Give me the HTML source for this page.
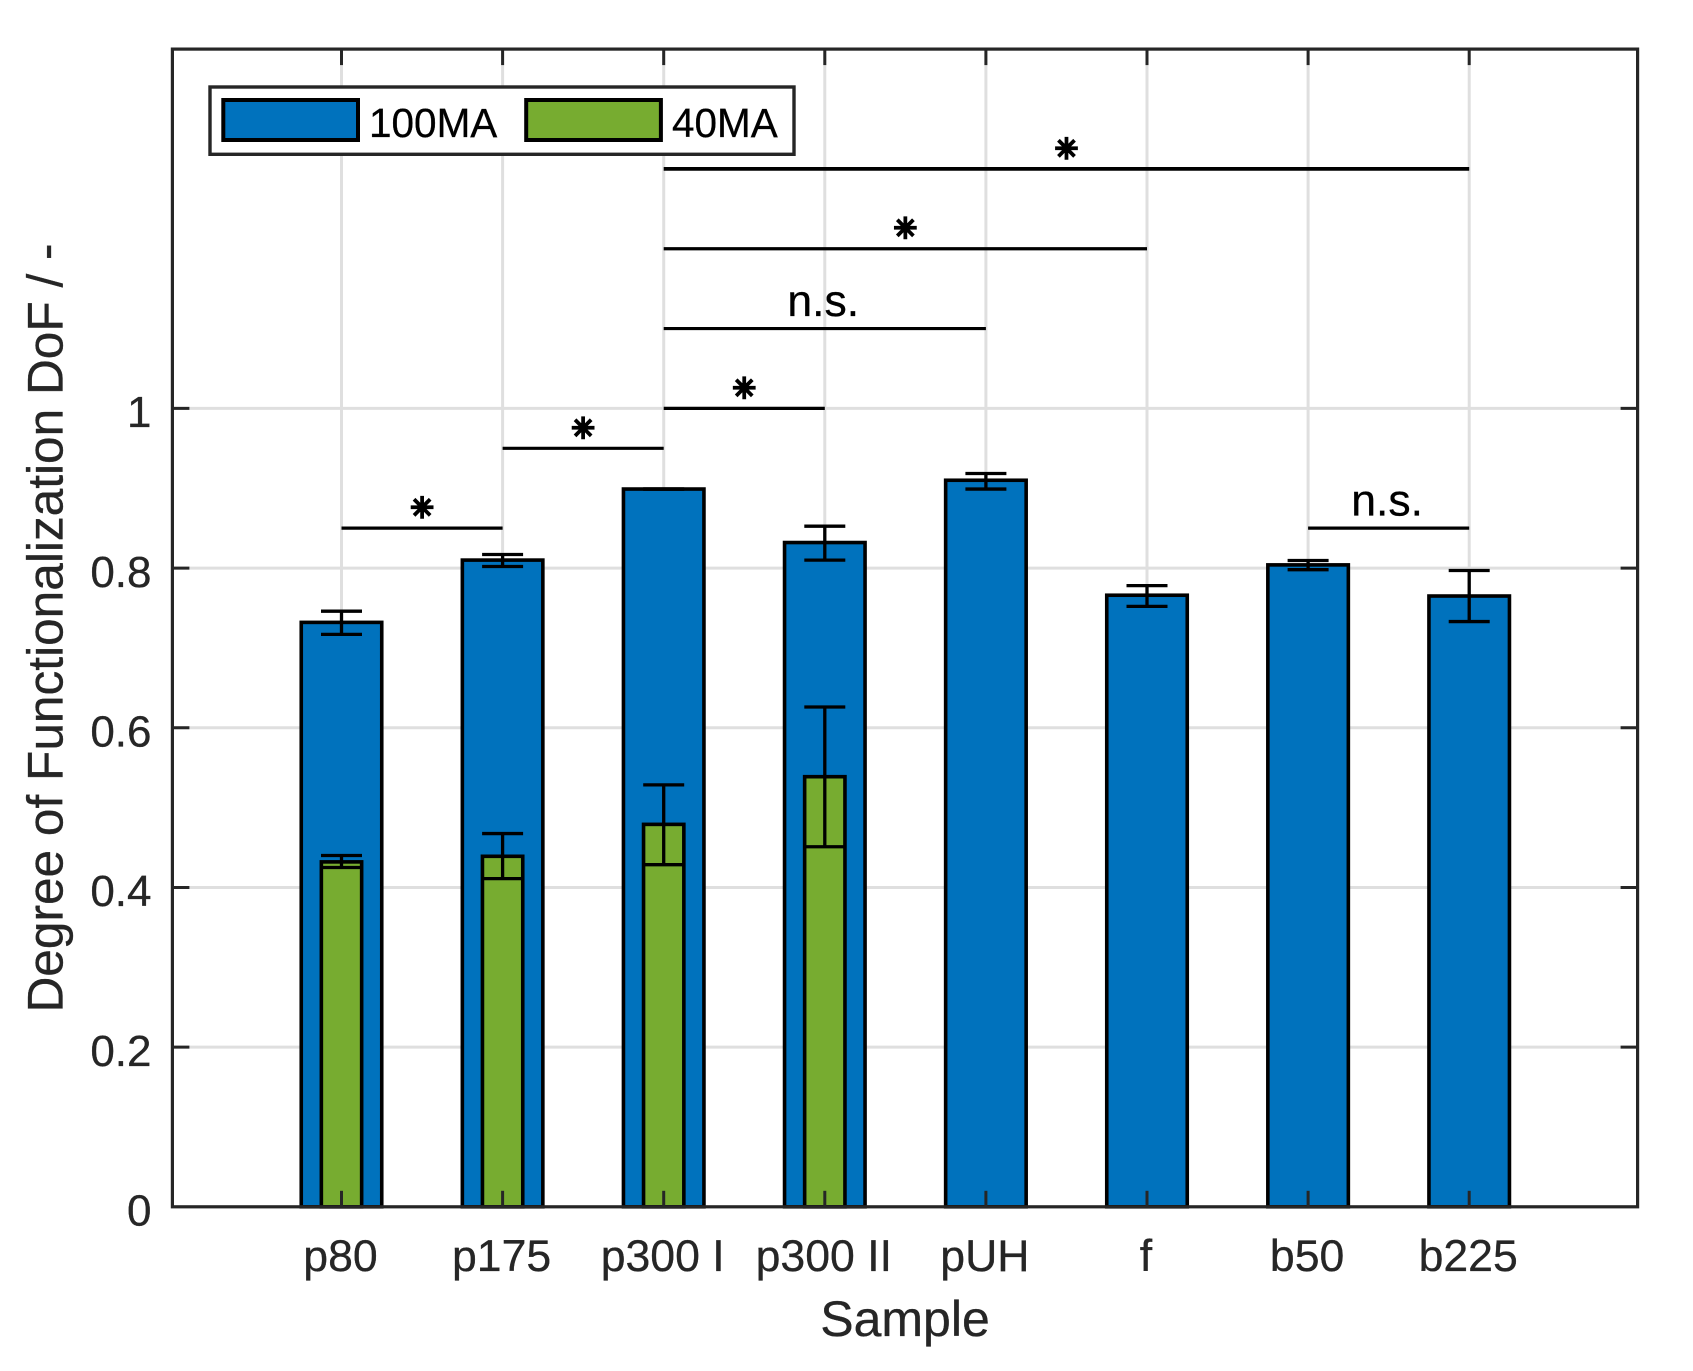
<!DOCTYPE html>
<html lang="en">
<head>
<meta charset="utf-8">
<title>Degree of Functionalization by Sample</title>
<style>
html, body { margin: 0; padding: 0; background: #ffffff; }
svg { display: block; }
text { font-family: "Liberation Sans", sans-serif; stroke: currentColor; stroke-width: 0.3px; }
</style>
</head>
<body>
<svg id="chart" xmlns="http://www.w3.org/2000/svg" width="1693" height="1371" viewBox="0 0 1693 1371">
  <rect x="0" y="0" width="1693" height="1371" fill="#ffffff"/>
</svg>
<script>
const categories = ['p80', 'p175', 'p300 I', 'p300 II', 'pUH', 'f', 'b50', 'b225'];
const values100 = [0.732, 0.81, 0.899, 0.832, 0.91, 0.766, 0.804, 0.765];
const upper100 = [0.746, 0.817, 0.899, 0.8525, 0.9185, 0.778, 0.8095, 0.797];
const lower100 = [0.717, 0.802, 0.899, 0.81, 0.899, 0.752, 0.798, 0.733];
const values40 = [0.432, 0.439, 0.479, 0.5387];
const upper40 = [0.44, 0.4675, 0.5285, 0.626];
const lower40 = [0.425, 0.411, 0.4285, 0.451];
const yTicks = [0, 0.2, 0.4, 0.6, 0.8, 1];
const sigFrom = [0, 1, 2, 2, 2, 2, 6];
const sigTo = [1, 2, 3, 4, 5, 7, 7];
const sigLevel = [0.85, 0.95, 1.0, 1.1, 1.2, 1.3, 0.85];
const sigLabel = ['*', '*', '*', 'n.s.', '*', '*', 'n.s.'];
const legendLabels = ['100MA', '40MA'];

const svg = document.getElementById('chart');
const NS = 'http://www.w3.org/2000/svg';
const plot = { left: 172.4, right: 1637.6, top: 49.1, bottom: 1206.8 };
const xScale = function (i) { return 341.5 + 161.1 * i; };
const yScale = function (v) { return plot.bottom - 798.4 * v; };
const ink = '#262626';

function mk(tag, attrs, parent) {
  const el = document.createElementNS(NS, tag);
  Object.keys(attrs).forEach(function (k) { el.setAttribute(k, attrs[k]); });
  (parent || svg).appendChild(el);
  return el;
}

/* gridlines */
yTicks.forEach(function (t) {
  if (t === 0) return;
  const el = mk('line', { x1: plot.left, x2: plot.right, y1: yScale(t), y2: yScale(t), stroke: '#dfdfdf', 'stroke-width': 3 });
  
  
});
categories.forEach(function (c, i) {
  const el = mk('line', { x1: xScale(i), x2: xScale(i), y1: plot.top, y2: plot.bottom, stroke: '#dfdfdf', 'stroke-width': 3 });
  
  
});

function drawBar(i, v, width, fill, name) {
  const el = mk('rect', { x: xScale(i) - width / 2, y: yScale(v), width: width, height: plot.bottom - yScale(v), fill: fill, stroke: '#000000', 'stroke-width': 3.6 });
  
  
}
function drawError(i, hi, lo, name) {
  const g = mk('g', { stroke: '#000000', 'stroke-width': 3.3, fill: 'none' });
  
  
  const cx = xScale(i);
  mk('line', { x1: cx, x2: cx, y1: yScale(hi), y2: yScale(lo) }, g);
  mk('line', { x1: cx - 20.5, x2: cx + 20.5, y1: yScale(hi), y2: yScale(hi) }, g);
  mk('line', { x1: cx - 20.5, x2: cx + 20.5, y1: yScale(lo), y2: yScale(lo) }, g);
}

/* series 100MA */
categories.forEach(function (c, i) {
  drawBar(i, values100[i], 80.5, '#0072BD', 'bar-100ma-' + c.replace(/ /g, '-'));
});
categories.forEach(function (c, i) {
  drawError(i, upper100[i], lower100[i], 'error-bar-100ma-' + c.replace(/ /g, '-'));
});

/* series 40MA */
values40.forEach(function (v, i) {
  drawBar(i, v, 40.3, '#77AC30', 'bar-40ma-' + categories[i].replace(/ /g, '-'));
});
values40.forEach(function (v, i) {
  drawError(i, upper40[i], lower40[i], 'error-bar-40ma-' + categories[i].replace(/ /g, '-'));
});

/* significance brackets */
sigLabel.forEach(function (label, k) {
  const x1 = xScale(sigFrom[k]);
  const x2 = xScale(sigTo[k]);
  const y = yScale(sigLevel[k]);
  const line = mk('line', { x1: x1, x2: x2, y1: y, y2: y, stroke: '#000000', 'stroke-width': sigLevel[k] === 1.3 ? 3.8 : 3.2 });
  
  
  const isStar = label === '*';
  const t = mk('text', {
    x: isStar ? (x1 + x2) / 2 : (x1 + x2) / 2 - 1.5,
    y: isStar ? y - 10.5 : y - 12.5,
    'text-anchor': 'middle',
    fill: '#000000',
    color: '#000000',
    'font-size': isStar ? 28 : 44.5
  });
  if (isStar) {
    t.style.fontFamily = '"DejaVu Sans", sans-serif';
    t.style.strokeWidth = '2.4px';
  }
  t.textContent = isStar ? '\u2733' : label;
  
  
});

/* ticks */
yTicks.forEach(function (t) {
  const y = yScale(t);
  if (t !== 0) {
    const a = mk('line', { x1: plot.left, x2: plot.left + 17, y1: y, y2: y, stroke: ink, 'stroke-width': 3 });
    
    
    const b = mk('line', { x1: plot.right - 17, x2: plot.right, y1: y, y2: y, stroke: ink, 'stroke-width': 3 });
    
    
  }
  const lab = mk('text', { x: 151.5, y: y + 18.8, 'text-anchor': 'end', fill: ink, color: ink, 'font-size': 44 });
  lab.textContent = String(t);
  
  
});
categories.forEach(function (c, i) {
  const x = xScale(i);
  const a = mk('line', { x1: x, x2: x, y1: plot.top, y2: plot.top + 16, stroke: ink, 'stroke-width': 3 });
  
  
  const b = mk('line', { x1: x, x2: x, y1: plot.bottom - 16, y2: plot.bottom, stroke: ink, 'stroke-width': 3 });
  
  
  const lab = mk('text', { x: x - 1, y: 1271, 'text-anchor': 'middle', fill: ink, color: ink, 'font-size': 44.6 });
  lab.textContent = c;
  
  
});

/* axes box */
const box = mk('rect', { x: plot.left, y: plot.top, width: plot.right - plot.left, height: plot.bottom - plot.top, fill: 'none', stroke: ink, 'stroke-width': 3.2 });



/* axis titles */
const xTitle = mk('text', { x: 905, y: 1336, 'text-anchor': 'middle', fill: ink, color: ink, 'font-size': 50 });
xTitle.textContent = 'Sample';



const yTitle = mk('text', { x: 0, y: 0, 'text-anchor': 'middle', fill: ink, color: ink, 'font-size': 49.6, transform: 'translate(62.7 628) rotate(-90)' });
yTitle.textContent = 'Degree of Functionalization DoF / -';



/* legend */
const legend = mk('g', {});


const legendBox = mk('rect', { x: 210, y: 87, width: 584, height: 67.3, fill: '#ffffff', stroke: ink, 'stroke-width': 3.4 }, legend);


const legendFills = ['#0072BD', '#77AC30'];
const legendPatchX = [223.3, 526.2];
const legendTextX = [369, 672];
legendLabels.forEach(function (label, i) {
  const p = mk('rect', { x: legendPatchX[i], y: 100, width: 134.7, height: 40, fill: legendFills[i], stroke: '#000000', 'stroke-width': 4 }, legend);
  
  
  const t = mk('text', { x: legendTextX[i], y: 137, fill: '#000000', color: '#000000', 'font-size': 40.5 }, legend);
  t.textContent = label;
  
  
});
</script>
</body>
</html>
